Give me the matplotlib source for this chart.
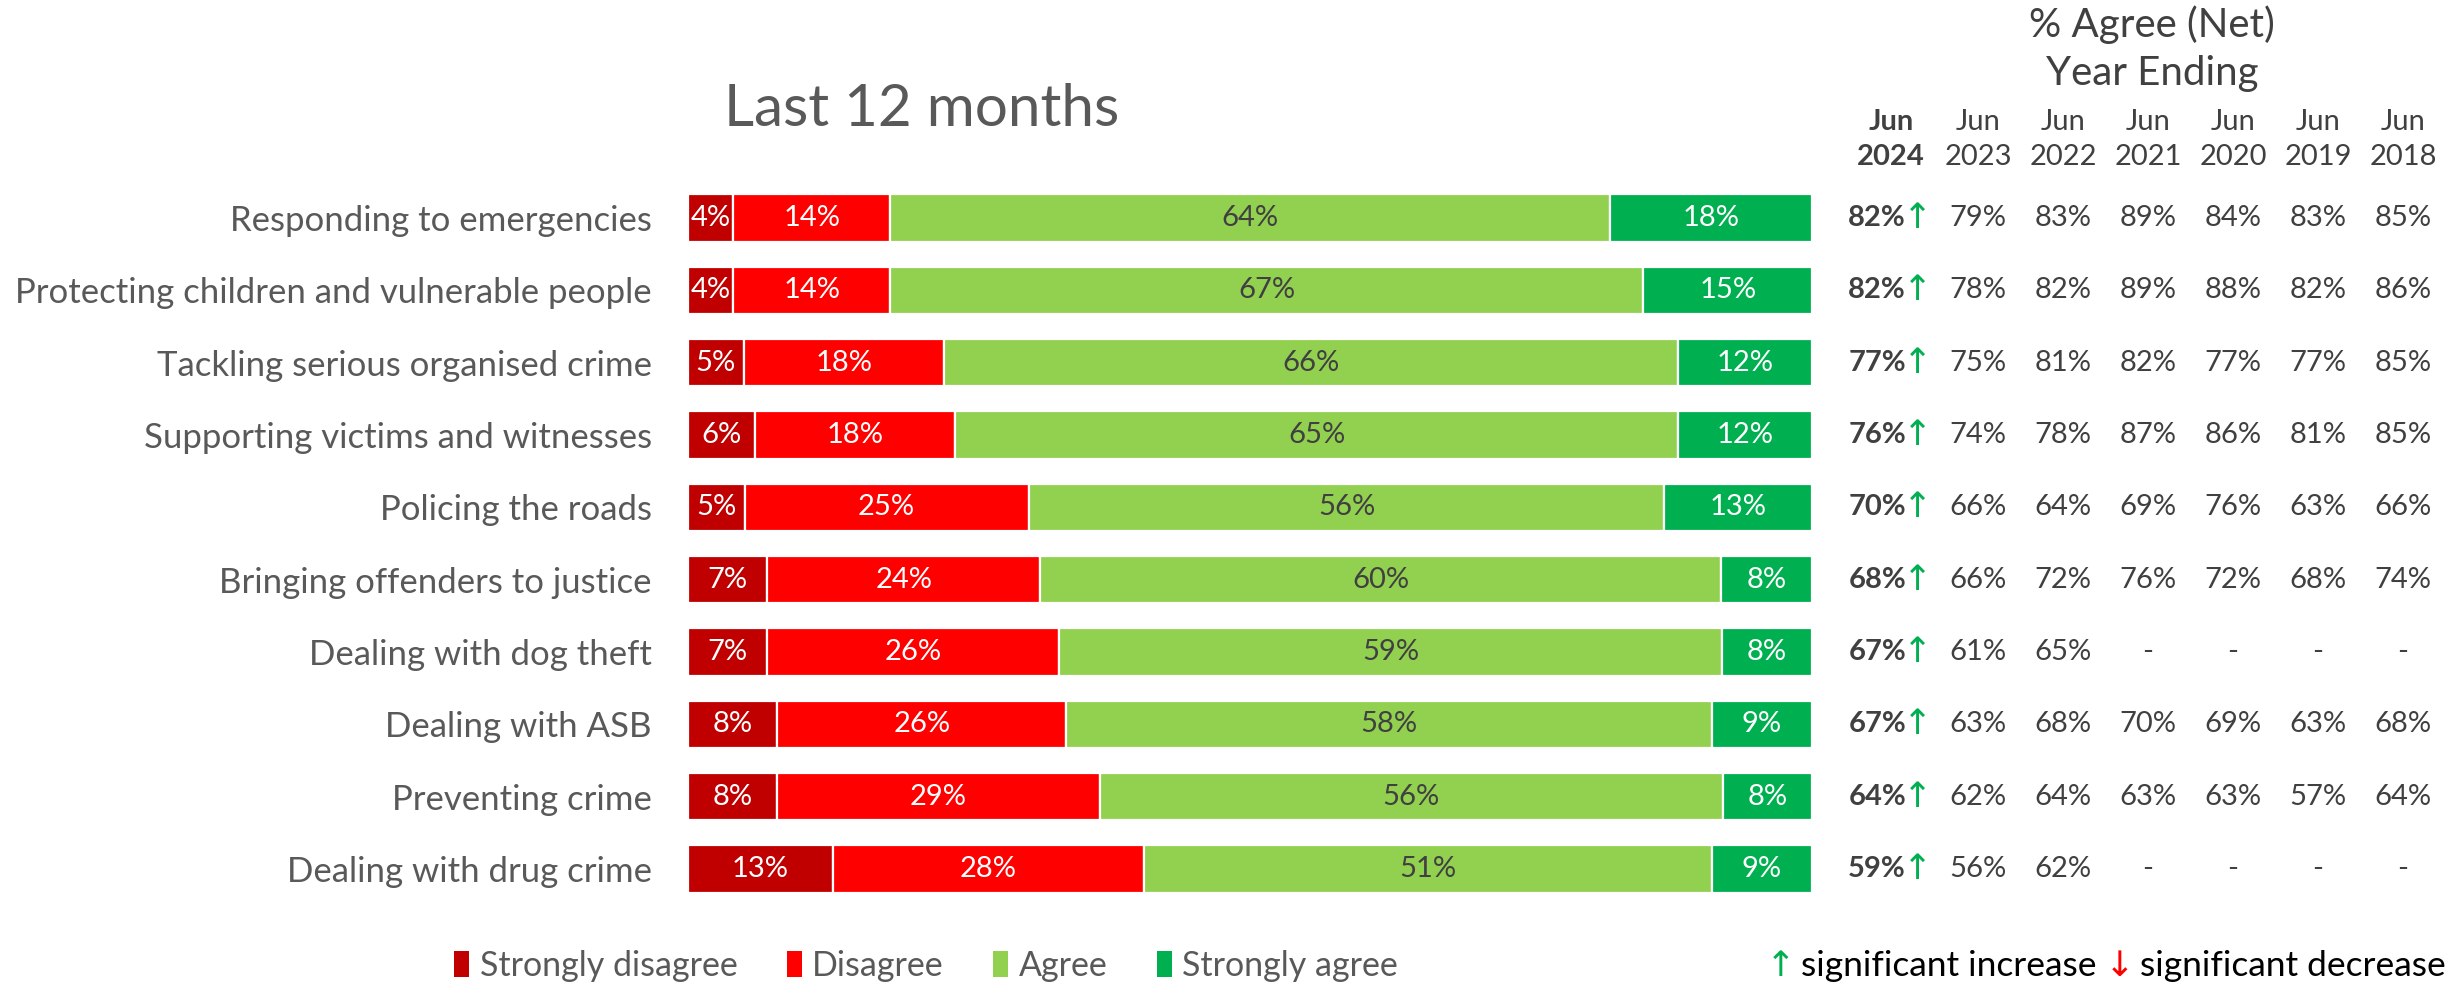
import matplotlib
matplotlib.use('Agg')
import matplotlib.pyplot as plt
from matplotlib.transforms import blended_transform_factory

plt.rcParams['font.family'] = ['Lato', 'DejaVu Sans']

# ---------------- data ----------------
categories = [
    "Responding to emergencies",
    "Protecting children and vulnerable people",
    "Tackling serious organised crime",
    "Supporting victims and witnesses",
    "Policing the roads",
    "Bringing offenders to justice",
    "Dealing with dog theft",
    "Dealing with ASB",
    "Preventing crime",
    "Dealing with drug crime",
]
strongly_disagree = [4, 4, 5, 6, 5, 7, 7, 8, 8, 13]
disagree = [14, 14, 18, 18, 25, 24, 26, 26, 29, 28]
agree = [64, 67, 66, 65, 56, 60, 59, 58, 56, 51]
strongly_agree = [18, 15, 12, 12, 13, 8, 8, 9, 8, 9]

series_names = ["Strongly disagree", "Disagree", "Agree", "Strongly agree"]
series_colors = ["#C00000", "#FF0000", "#92D050", "#00B050"]
label_colors = ["white", "white", "#404040", "white"]

net_2024 = [82, 82, 77, 76, 70, 68, 67, 67, 64, 59]
sig_2024 = ["up"] * 10
net_2023 = [79, 78, 75, 74, 66, 66, 61, 63, 62, 56]
net_2022 = [83, 82, 81, 78, 64, 72, 65, 68, 64, 62]
net_2021 = [89, 89, 82, 87, 69, 76, None, 70, 63, None]
net_2020 = [84, 88, 77, 86, 76, 72, None, 69, 63, None]
net_2019 = [83, 82, 77, 81, 63, 68, None, 63, 57, None]
net_2018 = [85, 86, 85, 85, 66, 74, None, 68, 64, None]
history = [net_2023, net_2022, net_2021, net_2020, net_2019, net_2018]
history_years = ["2023", "2022", "2021", "2020", "2019", "2018"]

# ---------------- figure ----------------
W, H = 2455, 984
fig = plt.figure(figsize=(W / 100, H / 100), dpi=100)
fx = lambda px: px / W
fy = lambda py: 1 - py / H

n = len(categories)
row_top, row_bot = 218, 869
step = (row_bot - row_top) / (n - 1)
ax_top = row_top - step / 2
ax_bot = row_bot + step / 2
ax = fig.add_axes([fx(688), fy(ax_bot), (1812 - 688) / W, (ax_bot - ax_top) / H])

y = list(range(n))
series = [strongly_disagree, disagree, agree, strongly_agree]
totals = [sum(v) for v in zip(*series)]
left = [0.0] * n
handles = []
for vals, name, col, lcol in zip(series, series_names, series_colors, label_colors):
    widths = [v / t for v, t in zip(vals, totals)]
    cont = ax.barh(y, widths, left=left, height=0.65, color=col,
                   edgecolor='white', linewidth=1.6, label=name)
    ax.bar_label(cont, labels=[f"{v}%" for v in vals], label_type='center',
                 color=lcol, fontsize=21)
    handles.append(cont)
    left = [l + w for l, w in zip(left, widths)]

ax.set_xlim(0, 1)
ax.set_ylim(n - 0.5, -0.5)
ax.set_yticks(y)
ax.set_yticklabels(categories, fontsize=25, color="#595959")
ax.tick_params(axis='y', length=0, pad=26)
ax.set_xticks([])
for s in ax.spines.values():
    s.set_visible(False)

# ---------------- title ----------------
fig.text(fx(922), fy(110), "Last 12 months", ha='center', va='center',
         fontsize=42, color="#595959")

# ---------------- table ----------------
tr = blended_transform_factory(fig.transFigure, ax.transData)
txt_col = "#404040"
tab_fs = 21
for i in range(n):
    fig.text(fx(1906), i, f"{net_2024[i]}%", transform=tr, ha='right', va='center',
             fontsize=tab_fs, fontweight='bold', color=txt_col)
    arrow = "\u2191" if sig_2024[i] == "up" else "\u2193"
    acol = "#00B050" if sig_2024[i] == "up" else "#FF0000"
    fig.text(fx(1903), i, arrow, transform=tr, ha='left', va='center',
             fontsize=25, color=acol, family=['DejaVu Sans'])

col_x = [1978, 2063, 2148, 2233, 2318, 2403]
for cx, vals in zip(col_x, history):
    for i, v in enumerate(vals):
        fig.text(fx(cx), i, "-" if v is None else f"{v}%", transform=tr,
                 ha='center', va='center', fontsize=tab_fs, color=txt_col)

# headers
fig.text(fx(1891), fy(122), "Jun", ha='center', va='center', fontsize=tab_fs,
         fontweight='bold', color=txt_col)
fig.text(fx(1891), fy(157), "2024", ha='center', va='center', fontsize=tab_fs,
         fontweight='bold', color=txt_col)
for cx, yr in zip(col_x, history_years):
    fig.text(fx(cx), fy(122), "Jun", ha='center', va='center', fontsize=tab_fs, color=txt_col)
    fig.text(fx(cx), fy(157), yr, ha='center', va='center', fontsize=tab_fs, color=txt_col)
fig.text(fx(2152), fy(25), "% Agree (Net)", ha='center', va='center', fontsize=29, color=txt_col)
fig.text(fx(2152), fy(74), "Year Ending", ha='center', va='center', fontsize=29, color=txt_col)

# ---------------- legends ----------------
leg = fig.legend(handles, series_names, loc='center', bbox_to_anchor=(fx(926), fy(966)),
                 ncol=4, frameon=False, handlelength=0.45, handleheight=0.8,
                 handletextpad=0.3, columnspacing=1.45, fontsize=24.5, labelcolor="#595959")
for h in leg.legend_handles:
    h.set_edgecolor('none')

# significance key, laid out left to right and right-aligned at the figure edge
renderer = fig.canvas.get_renderer()
sig_y = fy(966)
pieces = [("\u2191", "#00B050", ['DejaVu Sans'], 6),
          ("significant increase", "black", None, 8),
          ("\u2193", "#FF0000", ['DejaVu Sans'], 6),
          ("significant decrease", "black", None, 0)]
texts = []
for s, c, fam, gap in pieces:
    kw = {} if fam is None else {'family': fam}
    t = fig.text(0, sig_y, s, ha='left', va='center', fontsize=25.5, color=c, **kw)
    texts.append((t, t.get_window_extent(renderer).width, gap))
total = sum(w + g for _, w, g in texts)
xpos = 2446 - total
for t, w, g in texts:
    t.set_x(fx(xpos))
    xpos += w + g

fig.savefig("out.png", dpi=100)
